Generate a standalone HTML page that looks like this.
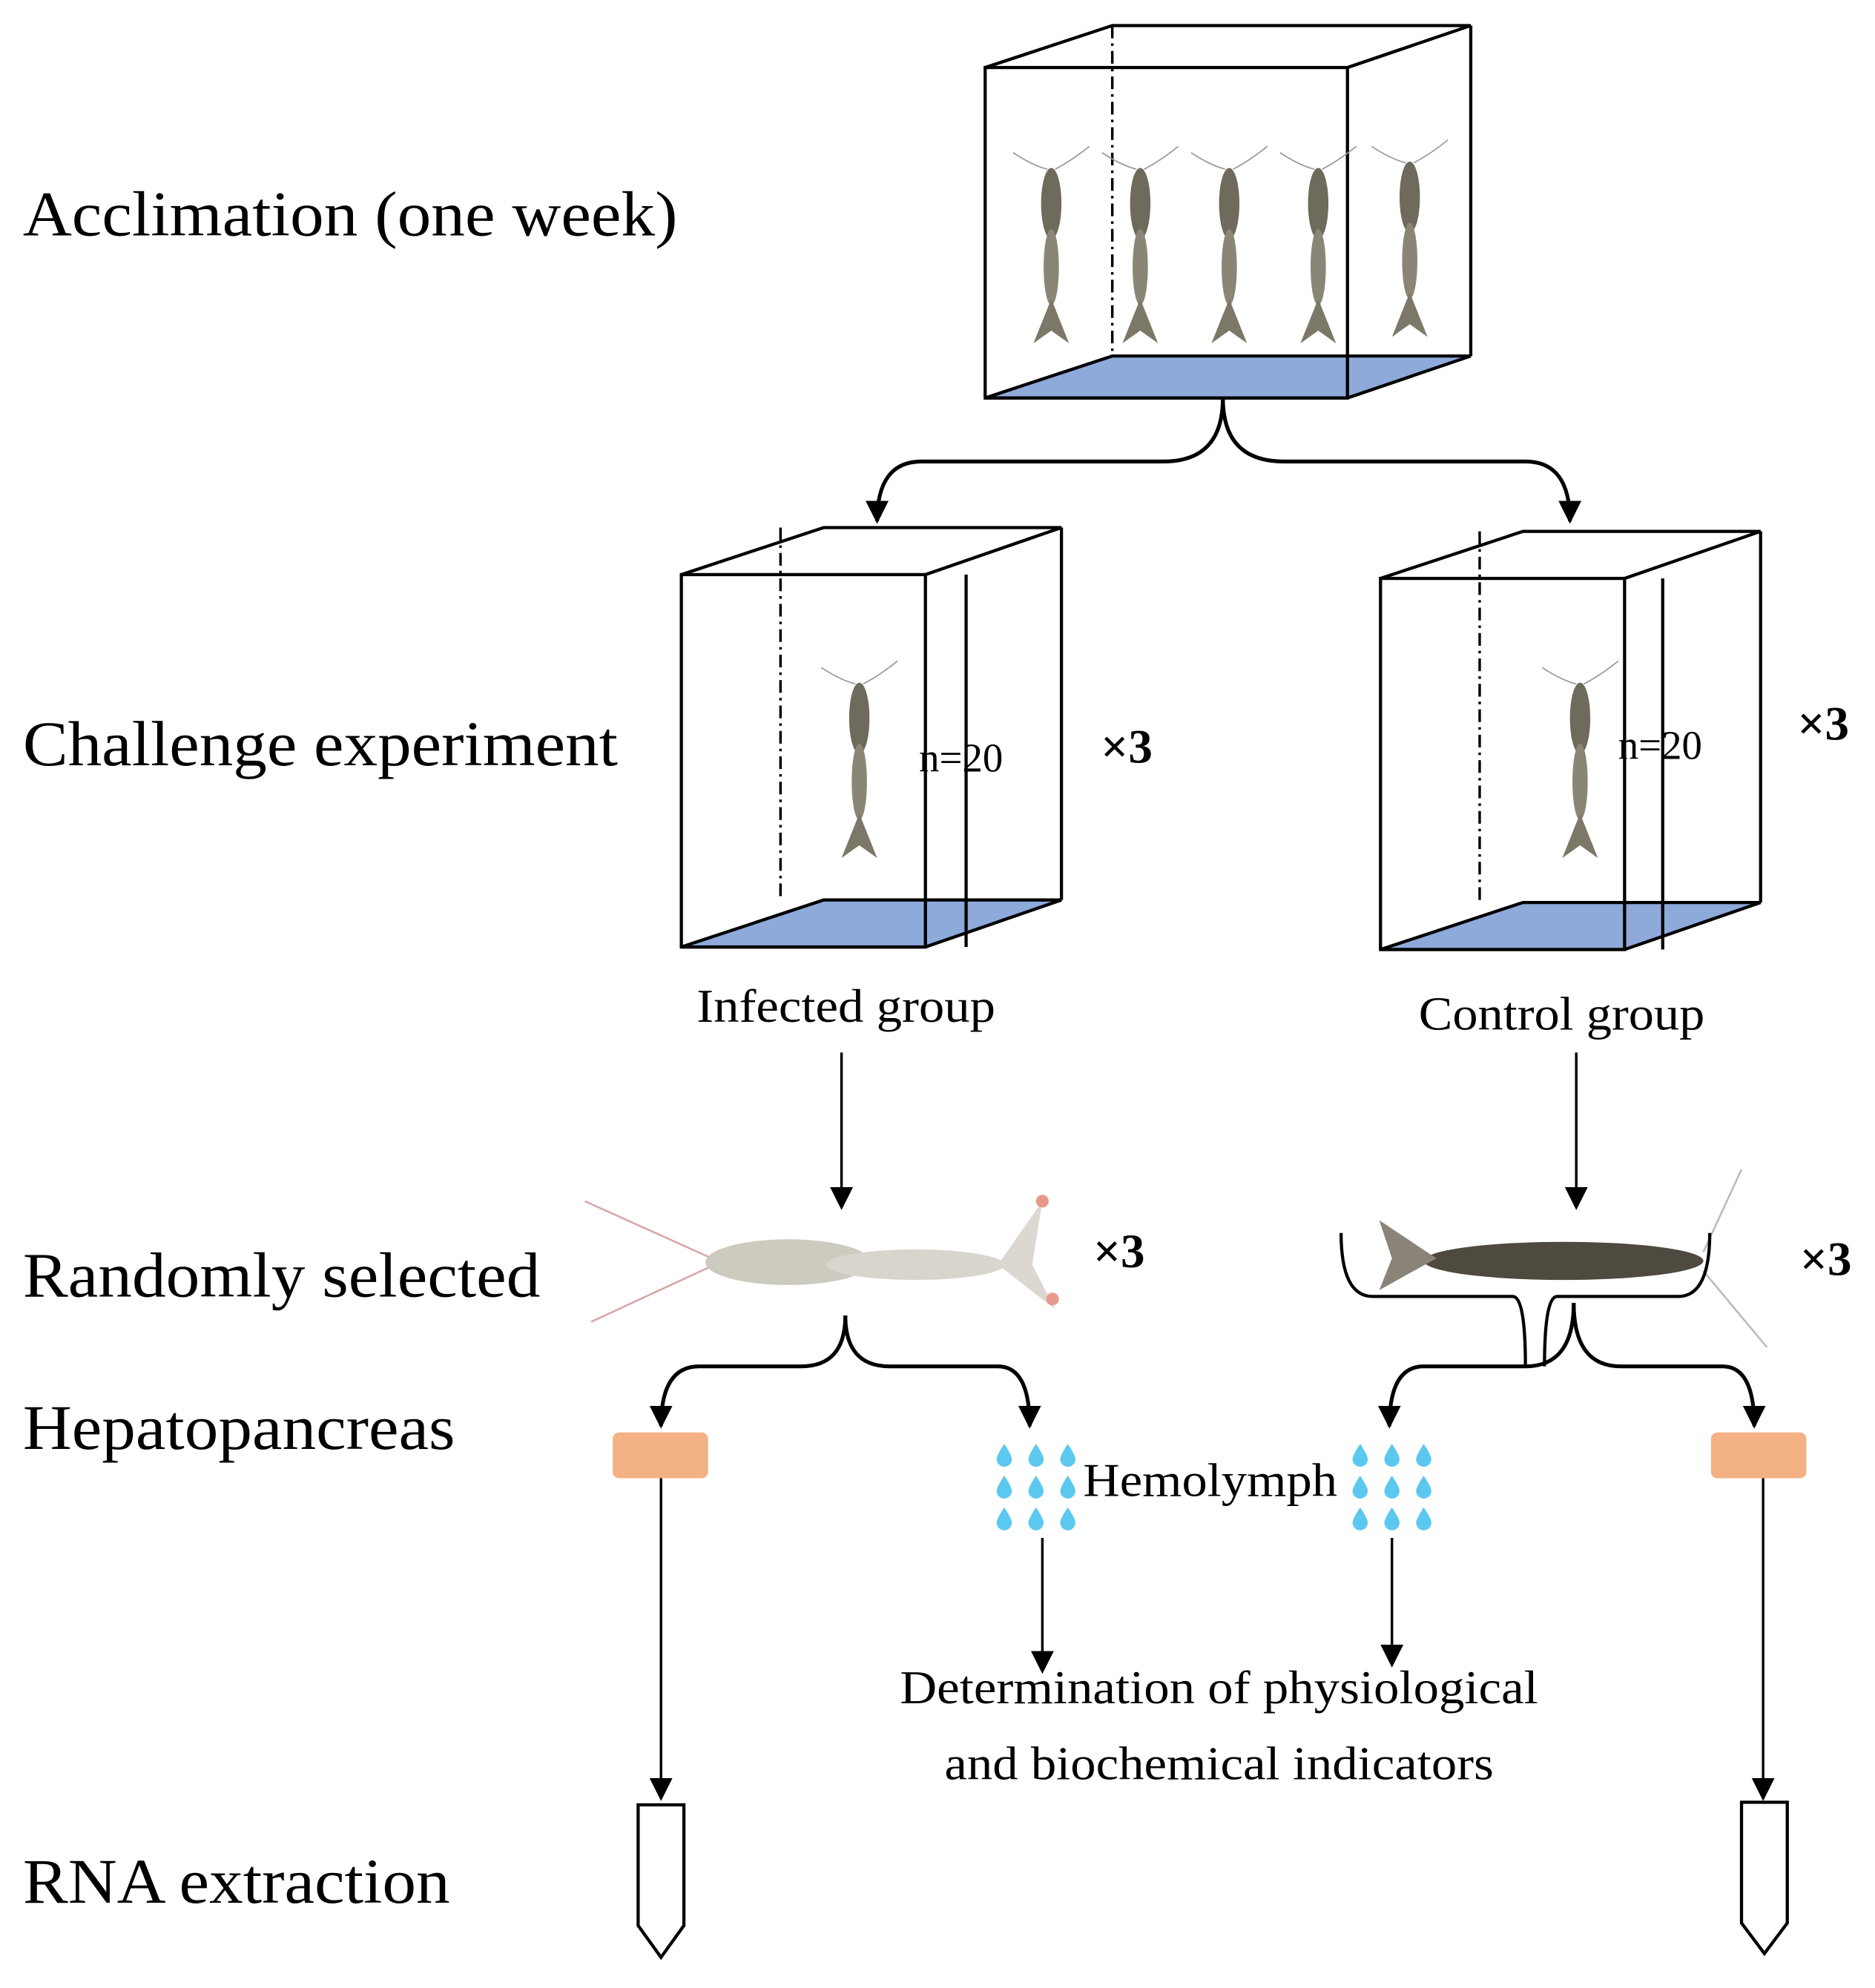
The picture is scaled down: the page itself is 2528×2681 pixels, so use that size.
<!DOCTYPE html>
<html><head><style>html,body{margin:0;padding:0;background:#fff}svg{display:block}</style></head>
<body>
<svg width="2528" height="2681" viewBox="0 0 1475 1564" xmlns="http://www.w3.org/2000/svg" font-family="Liberation Serif, serif">
<defs>
<marker id="ar" markerWidth="20" markerHeight="20" refX="16" refY="9" orient="auto" markerUnits="userSpaceOnUse"><path d="M0,0 L18,9 L0,18z" fill="#000"/></marker>
<path id="d" d="M0,-9 Q6,0 6,3 A6,6 0 0 1 -6,3 Q-6,0 0,-9z"/>
<g id="vs">
 <path d="M-30,-15 Q-15,-5 -3,-2 M30,-20 Q15,-8 3,-2" stroke="#999" stroke-width="1" fill="none"/>
 <ellipse cx="0" cy="25" rx="8" ry="28" fill="#6e6a5c"/>
 <ellipse cx="0" cy="75" rx="6" ry="30" fill="#8a8676"/>
 <path d="M0,100 L-14,135 L0,125 L14,135z" fill="#7c7868"/>
</g>
</defs>
<rect width="1475" height="1564" fill="#fff"/>
<g font-size="50" fill="#000">
<text x="18" y="185" textLength="515" lengthAdjust="spacingAndGlyphs">Acclimation (one week)</text>
<text x="18" y="602" textLength="468" lengthAdjust="spacingAndGlyphs">Challenge experiment</text>
<text x="18" y="1020" textLength="407" lengthAdjust="spacingAndGlyphs">Randomly selected</text>
<text x="18" y="1140" textLength="340" lengthAdjust="spacingAndGlyphs">Hepatopancreas</text>
<text x="18" y="1497" textLength="336" lengthAdjust="spacingAndGlyphs">RNA extraction</text>
</g>
<g stroke="#000" stroke-width="2.5" fill="none">
<polygon points="775,313 875,280 1157,280 1060,313" fill="#8eaadb"/>
<rect x="775" y="53" width="285" height="260"/>
<polyline points="775,53 875,20 1157,20 1060,53"/>
<line x1="1157" y1="20" x2="1157" y2="280"/>
<line x1="875" y1="20" x2="875" y2="280" stroke-dasharray="10,4,2,4" stroke-width="2"/>
<polygon points="536,745 648,708 835,708 728,745" fill="#8eaadb"/>
<rect x="536" y="452" width="192" height="293"/>
<polyline points="536,452 648,415 835,415 728,452"/>
<line x1="835" y1="415" x2="835" y2="708"/>
<line x1="760" y1="452" x2="760" y2="745"/>
<line x1="614" y1="415" x2="614" y2="708" stroke-dasharray="10,4,2,4" stroke-width="2"/>
<polygon points="1086,747 1198,710 1385,710 1278,747" fill="#8eaadb"/>
<rect x="1086" y="455" width="192" height="292"/>
<polyline points="1086,455 1198,418 1385,418 1278,455"/>
<line x1="1385" y1="418" x2="1385" y2="710"/>
<line x1="1308" y1="455" x2="1308" y2="747"/>
<line x1="1164" y1="418" x2="1164" y2="710" stroke-dasharray="10,4,2,4" stroke-width="2"/>
</g>
<use href="#vs" x="827" y="135"/><use href="#vs" x="897" y="135"/><use href="#vs" x="967" y="135"/><use href="#vs" x="1037" y="135"/><use href="#vs" x="1109" y="130"/>
<use href="#vs" x="676" y="540"/><use href="#vs" x="1243" y="540"/>
<!-- left horizontal shrimp -->
<path d="M560,990 L460,945 M560,996 L465,1040" stroke="#d9a6a6" stroke-width="1.5"/>
<ellipse cx="620" cy="993" rx="65" ry="18" fill="#cdcac0"/>
<ellipse cx="720" cy="995" rx="70" ry="12" fill="#d8d5cc"/>
<path d="M785,995 L820,945 L812,995 L830,1030z" fill="#dcd7d0"/>
<circle cx="820" cy="945" r="5" fill="#e89a8a"/><circle cx="828" cy="1022" r="5" fill="#e89a8a"/>
<!-- right horizontal shrimp -->
<path d="M1340,985 L1370,920 M1340,1000 L1390,1060" stroke="#bbb" stroke-width="1.5"/>
<ellipse cx="1230" cy="992" rx="110" ry="15" fill="#4e4a40"/>
<path d="M1130,990 L1085,960 L1095,990 L1085,1015z" fill="#8a8478"/>
<g stroke="#000" stroke-width="3" fill="none">
<path d="M962,313 Q962,363 915,363 L725,363 Q690,363 690,410" marker-end="url(#ar)"/>
<path d="M962,313 Q962,363 1010,363 L1200,363 Q1235,363 1235,410" marker-end="url(#ar)"/>
<path d="M662,828 L662,950" marker-end="url(#ar)" stroke-width="2"/>
<path d="M1240,828 L1240,950" marker-end="url(#ar)" stroke-width="2"/>
<path d="M665,1035 Q665,1075 630,1075 L550,1075 Q520,1075 520,1122" marker-end="url(#ar)"/>
<path d="M665,1035 Q665,1075 700,1075 L785,1075 Q810,1075 810,1122" marker-end="url(#ar)"/>
<path d="M1238,1025 Q1238,1075 1200,1075 L1120,1075 Q1093,1075 1093,1122" marker-end="url(#ar)"/>
<path d="M1238,1025 Q1238,1075 1275,1075 L1355,1075 Q1380,1075 1380,1122" marker-end="url(#ar)"/>
<path d="M1055,970 Q1055,1020 1080,1020 L1190,1020 Q1200,1020 1200,1075 M1345,970 Q1345,1020 1320,1020 L1225,1020 Q1215,1020 1215,1075" stroke-width="2.5"/>
<path d="M520,1163 L520,1415" marker-end="url(#ar)" stroke-width="2"/>
<path d="M820,1210 L820,1315" marker-end="url(#ar)" stroke-width="2"/>
<path d="M1095,1210 L1095,1310" marker-end="url(#ar)" stroke-width="2"/>
<path d="M1387,1163 L1387,1415" marker-end="url(#ar)" stroke-width="2"/>
<path d="M502,1420 L538,1420 L538,1515 L520,1540 L502,1515z" stroke-width="2.5"/>
<path d="M1370,1418 L1406,1418 L1406,1513 L1388,1537 L1370,1513z" stroke-width="2.5"/>
</g>
<rect x="482" y="1127" width="75" height="36" rx="5" fill="#f4b183"/>
<rect x="1346" y="1127" width="75" height="36" rx="5" fill="#f4b183"/>
<g fill="#5bc8ef">
<use href="#d" x="790" y="1145"/><use href="#d" x="815" y="1145"/><use href="#d" x="840" y="1145"/>
<use href="#d" x="790" y="1170"/><use href="#d" x="815" y="1170"/><use href="#d" x="840" y="1170"/>
<use href="#d" x="790" y="1195"/><use href="#d" x="815" y="1195"/><use href="#d" x="840" y="1195"/>
<use href="#d" x="1070" y="1145"/><use href="#d" x="1095" y="1145"/><use href="#d" x="1120" y="1145"/>
<use href="#d" x="1070" y="1170"/><use href="#d" x="1095" y="1170"/><use href="#d" x="1120" y="1170"/>
<use href="#d" x="1070" y="1195"/><use href="#d" x="1095" y="1195"/><use href="#d" x="1120" y="1195"/>
</g>
<g fill="#000" font-size="37">
<text x="852" y="1177" textLength="200" lengthAdjust="spacingAndGlyphs">Hemolymph</text>
<text x="708" y="1340" textLength="502" lengthAdjust="spacingAndGlyphs">Determination of physiological</text>
<text x="743" y="1400" textLength="432" lengthAdjust="spacingAndGlyphs">and biochemical indicators</text>
<text x="548" y="804" textLength="235" lengthAdjust="spacingAndGlyphs">Infected group</text>
<text x="1116" y="810" textLength="225" lengthAdjust="spacingAndGlyphs">Control group</text>
<text x="723" y="607" font-size="32">n=20</text>
<text x="1273" y="597" font-size="32">n=20</text>
<text x="866" y="600" font-weight="bold" font-size="38">×3</text>
<text x="1414" y="582" font-weight="bold" font-size="38">×3</text>
<text x="860" y="997" font-weight="bold" font-size="38">×3</text>
<text x="1416" y="1003" font-weight="bold" font-size="38">×3</text>
</g>
</svg>
</body></html>
